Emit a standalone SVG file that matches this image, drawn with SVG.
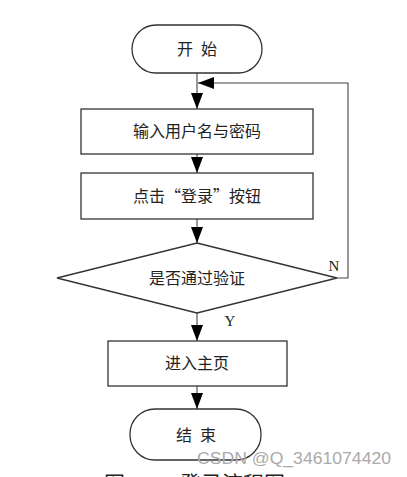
<svg xmlns="http://www.w3.org/2000/svg" width="407" height="477" viewBox="0 0 407 477">
<defs>
<style>
.shape{fill:#fff;stroke:#333;stroke-width:1.3}
.line{fill:none;stroke:#444;stroke-width:1.1}
.lbl{font-family:"Noto Sans CJK SC","Liberation Sans",sans-serif;font-size:16px;fill:#222;text-anchor:middle}
.yn{font-family:"Liberation Serif",serif;font-size:15px;fill:#222;text-anchor:middle}
.wm{font-family:"Liberation Sans",sans-serif;font-size:16px;fill:#aaa}
.cap{font-family:"Noto Sans CJK SC",sans-serif;font-size:21px;fill:#222}
</style>
<marker id="ah" markerWidth="16" markerHeight="12" refX="16" refY="6" orient="auto" markerUnits="userSpaceOnUse">
<path d="M0,0 L16,6 L0,12 Z" fill="#000"/>
</marker>
</defs>
<rect width="407" height="477" fill="#fff"/>
<g id="connectors">
<line class="line" x1="197" y1="73" x2="197" y2="109" marker-end="url(#ah)"/>
<line class="line" x1="197" y1="154" x2="197" y2="173" marker-end="url(#ah)"/>
<line class="line" x1="197" y1="219" x2="197" y2="243" marker-end="url(#ah)"/>
<line class="line" x1="197" y1="313" x2="197" y2="341" marker-end="url(#ah)"/>
<line class="line" x1="197" y1="386" x2="197" y2="409" marker-end="url(#ah)"/>
<polyline class="line" points="337,278 348,278 348,83 198,83" marker-end="url(#ah)"/>
<text class="yn" x="334" y="271">N</text>
<text class="yn" x="230" y="326">Y</text>
</g>
<g id="start">
<rect class="shape" x="132" y="25" width="130" height="48" rx="24" ry="24"/>
<text class="lbl" x="197" y="55">开&#8194;始</text>
</g>
<g id="input">
<rect class="shape" x="81" y="109" width="232" height="45"/>
<text class="lbl" x="197" y="137">输入用户名与密码</text>
</g>
<g id="click">
<rect class="shape" x="81" y="173" width="232" height="46"/>
<text class="lbl" x="197" y="202">点击“登录”按钮</text>
</g>
<g id="verify">
<polygon class="shape" points="197,243 337,278 197,313 57,278"/>
<text class="lbl" x="197" y="284">是否通过验证</text>
</g>
<g id="home">
<rect class="shape" x="108" y="341" width="179" height="45"/>
<text class="lbl" x="197" y="369">进入主页</text>
</g>
<g id="end">
<rect class="shape" x="130" y="409" width="131" height="51" rx="25" ry="25"/>
<text class="lbl" x="196" y="441">结&#8194;束</text>
</g>
<text class="wm" x="197" y="464" textLength="194" lengthAdjust="spacingAndGlyphs">CSDN @Q_3461074420</text>
<text class="cap" x="104" y="491">图</text>
<text class="cap" x="180" y="491">登录流程图</text>
</svg>
